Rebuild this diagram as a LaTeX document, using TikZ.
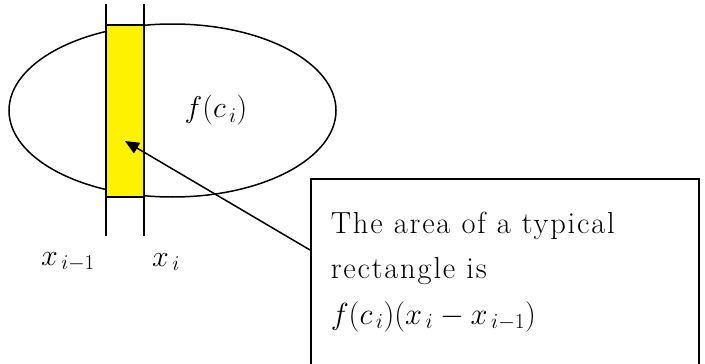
\RequirePackage{fix-cm}
\documentclass[tikz,border=0pt]{standalone}
\usepackage{amsmath}
\usepackage{fontspec}
\newfontfamily\notefont[LetterSpace=6]{Latin Modern Roman}
\usetikzlibrary{shapes.geometric,arrows.meta}

\begin{document}
\begin{tikzpicture}[x=1pt, y=-1pt, line width=1.5pt,
    every node/.style={font=\fontsize{30}{45}\selectfont},
    notetext/.style={font=\notefont\fontsize{30.5}{45.5}\selectfont},
    strip/.style={draw, fill=yellow},
    region/.style={ellipse, draw, minimum width=327pt, minimum height=173pt, inner sep=0pt},
    notebox/.style={draw, anchor=north west, minimum width=388pt, minimum height=200pt}]
  \clip (0,0) rectangle (705,364);
  \useasboundingbox (0,0) rectangle (705,364);
  % the region and the strip
  \node[region] (ell) at (172.5,110.5) {};
  \coordinate (sw) at (106,197);
  \coordinate (ne) at (144,25);
  \draw[strip] (sw) rectangle (ne);
  \coordinate (a1) at (106,4);
  \coordinate (a2) at (106,236);
  \coordinate (b1) at (144,4);
  \coordinate (b2) at (144,236);
  \draw (a1) -- (a2);
  \draw (b1) -- (b2);
  \node (fc) at (216,110) {$f(c_{\,i})$};
  \node (xa) at (68,262) {$x_{\,i-1}$};
  \node (xb) at (166,262) {$x_{\,i}$};
  % the note
  \node[notebox] (note) at (310,178) {};
  \node[notetext, anchor=north west, align=left, inner sep=0pt] (txt) at (330,211)
    {The area of a typical\\ rectangle is\\ $f(c_{\,i})(x_{\,i} - x_{\,i-1})$};
  \coordinate (tail) at (310,250);
  \coordinate (tip) at (125,141);
  \draw[-{Triangle[length=14pt,width=12pt]}] (tail) -- (tip);
\end{tikzpicture}
\end{document}
